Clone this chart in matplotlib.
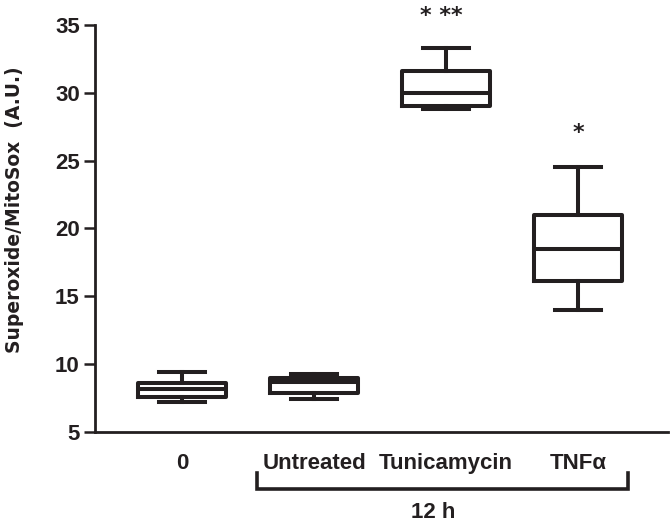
import matplotlib.pyplot as plt

plt.rcParams['font.family'] = ['Liberation Sans', 'DejaVu Sans']
plt.rcParams['font.weight'] = 'bold'
plt.rcParams['axes.labelweight'] = 'bold'

# --- Datos ---
groups = ['0', 'Untreated', 'Tunicamycin', 'TNFα']
whislo = [7.2, 7.4, 28.8, 14.0]
q1 = [7.6, 7.85, 29.0, 16.1]
med = [8.2, 8.7, 30.0, 18.5]
q3 = [8.6, 9.0, 31.6, 21.0]
whishi = [9.4, 9.25, 33.3, 24.5]
stars = ['', '', '* **', '*']
star_y = [0, 0, 35.2, 26.6]

stats = [dict(whislo=a, q1=b, med=c, q3=d, whishi=e, label=g)
         for a, b, c, d, e, g in zip(whislo, q1, med, q3, whishi, groups)]

fig = plt.figure(figsize=(6.7, 5.3), dpi=100)
ax = fig.add_axes([0.1418, 0.1849, 0.855, 0.768])

lw = 2.9
col = '#231f20'
ax.bxp(stats, positions=range(len(groups)), widths=0.67, showfliers=False,
       boxprops=dict(color=col, linewidth=lw),
       whiskerprops=dict(color=col, linewidth=lw),
       capprops=dict(color=col, linewidth=lw),
       medianprops=dict(color=col, linewidth=lw),
       capwidths=0.35)

for i, s in enumerate(stars):
    if s:
        dx = -0.04 if len(s) > 1 else 0.0
        ax.text(i + dx, star_y[i], s, ha='center', va='baseline', fontsize=16,
                family='DejaVu Sans', color=col, clip_on=False)

ax.set_xlim(-0.66, 3.68)
ax.set_ylim(5, 35)
ax.set_yticks([5, 10, 15, 20, 25, 30, 35])
ax.set_xticks(range(len(groups)))
ax.set_xticklabels(groups)
ax.tick_params(axis='x', length=0, pad=15, labelsize=16, colors=col)
ax.tick_params(axis='y', length=8, width=1.8, pad=3, labelsize=16, colors=col)
ax.spines['top'].set_visible(False)
ax.spines['right'].set_visible(False)
for sp in ['left', 'bottom']:
    ax.spines[sp].set_linewidth(2.0)
    ax.spines[sp].set_color(col)
ax.set_ylabel('Superoxide/MitoSox  (A.U.)', fontsize=13.5, color=col,
              family='DejaVu Sans')
ax.yaxis.set_label_coords(-0.124, 0.545)

# --- Corchete 12 h ---
tr = ax.get_xaxis_transform()
ax.plot([0.568, 0.568, 3.38, 3.38], [-0.10, -0.14, -0.14, -0.10],
        transform=tr, color=col, linewidth=2.6, clip_on=False,
        solid_joinstyle='miter')
ax.text(1.905, -0.198, '12 h', transform=tr, ha='center', va='center',
        fontsize=16, color=col)

fig.savefig('out.png', dpi=100)
